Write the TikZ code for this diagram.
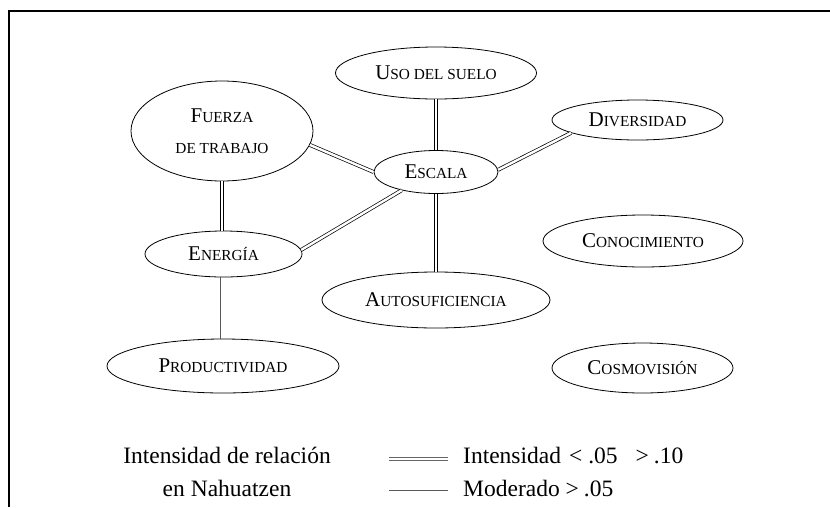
\documentclass[tikz,border=0pt]{standalone}
\usepackage{fontspec}
\setmainfont{Liberation Serif}
\usetikzlibrary{shapes.geometric}
\newcommand{\fsc}[2]{{\fontsize{21}{31}\selectfont #1}{\fontsize{15.3}{31}\selectfont #2}}
\begin{document}
\begin{tikzpicture}[x=1pt,y=-1pt,
  elli/.style={draw, ellipse, line width=0.8pt, inner sep=0pt,
    font=\fontsize{21}{31}\selectfont, align=center},
  strong/.style={double, double distance=2.4pt, line width=0.7pt},
  weak/.style={line width=0.9pt, draw=black!65},
  legdouble/.style={double, double distance=1.6pt, line width=0.8pt, draw=black!60},
  legtext/.style={font=\fontsize{23.5}{28}\selectfont, inner sep=0pt}]
\useasboundingbox (0,0) rectangle (830,507);
\draw[line width=2pt] (8.5,507) -- (8.5,10.5) -- (830,10.5);

\node[elli, minimum width=201pt, minimum height=52pt] (uso) at (436,73) {\fsc{U}{SO DEL SUELO}};
\node[elli, minimum width=182pt, minimum height=100pt] (fuerza) at (222,131) {\fsc{F}{UERZA}\\\fsc{}{DE TRABAJO}};
\node[elli, minimum width=124pt, minimum height=43pt] (escala) at (436,172) {\fsc{E}{SCALA}};
\node[elli, minimum width=157pt, minimum height=46pt] (energia) at (223.5,254) {\fsc{E}{NERGÍA}};
\node[elli, minimum width=232pt, minimum height=54pt] (prod) at (223,366) {\fsc{P}{RODUCTIVIDAD}};
\node[elli, minimum width=228pt, minimum height=56pt] (autosuf) at (436,300) {\fsc{A}{UTOSUFICIENCIA}};
\node[elli, minimum width=171pt, minimum height=40pt] (div) at (637.5,120) {\fsc{D}{IVERSIDAD}};
\node[elli, minimum width=200pt, minimum height=52pt] (cono) at (643,241) {\fsc{C}{ONOCIMIENTO}};
\node[elli, minimum width=181pt, minimum height=50pt] (cosmo) at (642.5,368) {\fsc{C}{OSMOVISIÓN}};

\draw[strong] (uso.south) -- (escala.north);
\draw[strong] (fuerza.-9) -- (escala.180);
\draw[strong] (escala.2) -- (div.-169);
\draw[strong] (escala.-152) -- (energia.3);
\draw[strong] (fuerza.south) -- (fuerza.south |- energia.north);
\draw[strong] (escala.south) -- (autosuf.north);
\draw[weak] ([xshift=-3pt]energia.south) -- ([xshift=-3pt]energia.south |- prod.north);

\node[legtext] (leg1) at (227,455) {Intensidad de relación};
\node[legtext] (leg2) at (227,488) {en Nahuatzen};
\node[legtext, anchor=west] (legA) at (463,456) {Intensidad\hspace{8pt}<\hspace{6pt}.05\hspace{18pt}>\hspace{5pt}.10};
\node[legtext, anchor=west] (legB) at (463,489) {Moderado >\hspace{5pt}.05};
\coordinate (s1a) at (389,459);
\coordinate (s1b) at (448,459);
\coordinate (s2a) at (389,490);
\coordinate (s2b) at (448,490);
\draw[legdouble] (s1a) -- (s1b);
\draw[weak] (s2a) -- (s2b);
\end{tikzpicture}
\end{document}
